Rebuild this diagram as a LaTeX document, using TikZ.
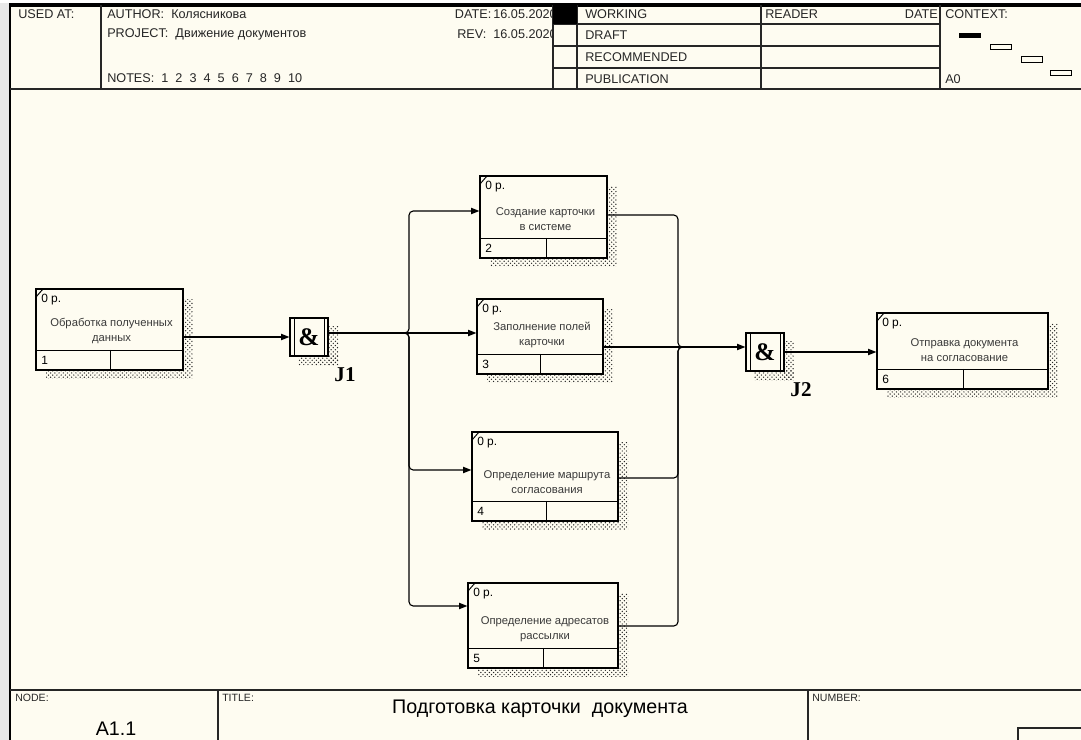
\documentclass[tikz,border=0pt]{standalone}
\usepackage{fontspec}
\setmainfont{Liberation Sans}
\newfontfamily\serifbf{Liberation Serif}
\usepackage{tikz}
\usetikzlibrary{arrows.meta,positioning,fit,calc,patterns}

\definecolor{paper}{HTML}{FEFCF1}
\definecolor{ink}{HTML}{3A3A3A}

% activity box: name, x1, y1, x2, y2, divider x, number, text
\newcommand{\actbox}[8]{%
  \fill[hatch] ({#2+10},{#3+11}) rectangle ({#4+10},{#5+9});
  \node[act, fit={(#2,#3)(#4,#5)}] (#1) {};
  \draw[thinline] (#2,{#5-20}) -- (#4,{#5-20}) (#6,{#5-20}) -- (#6,#5);
  \draw[thinline] (#2,{#3+8}) -- ({#2+7},#3);
  \node[lbl] at ({#2+5},{#3+11}) {0 р.};
  \node[lbl] at ({#2+5},{#5-10}) {#7};
  \node[acttext] at ({(#2+#4)/2+2},{#5-39}) {#8};
}
% junction: name, x1, y1, label
\newcommand{\junc}[4]{%
  \fill[hatch] ({#2+38},{#3+9}) rectangle ({#2+48},{#3+48});
  \fill[hatch] ({#2+8},{#3+38}) rectangle ({#2+48},{#3+48});
  \node[jbox, fit={(#2,#3)({#2+38},{#3+38})}] (#1) {};
  \draw[thinline] ({#2+4},#3) -- ({#2+4},{#3+38}) ({#2+34},#3) -- ({#2+34},{#3+38});
  \node[font=\serifbf\bfseries\fontsize{18}{18}\selectfont, inner sep=0pt] at (#1) {\&};
  \node[jlabel] at ({#2+55},{#3+57}) {#4};
}

\begin{document}
\begin{tikzpicture}[x=0.025cm, y=-0.025cm,
  act/.style={draw, fill=paper, inner sep=0pt, line width=0.8pt},
  jbox/.style={draw, fill=paper, inner sep=0pt, line width=0.8pt},
  thinline/.style={line width=0.7pt},
  hatch/.style={pattern=crosshatch dots, pattern color=black!85},
  lbl/.style={anchor=west, inner sep=0pt, font=\fontsize{8.5}{10}\selectfont},
  acttext/.style={align=center, inner sep=0pt, text=ink, font=\fontsize{8}{11}\selectfont},
  jlabel/.style={inner sep=0pt, font=\serifbf\bfseries\fontsize{15}{15}\selectfont},
  hdr/.style={anchor=west, inner sep=0pt, text=black!85, font=\fontsize{9}{10}\selectfont},
  small/.style={anchor=west, inner sep=0pt, text=black!85, font=\fontsize{7.5}{9}\selectfont},
  frame/.style={line width=0.8pt, black!85},
  arr/.style={-{Triangle[length=6pt,width=4.5pt]}, line width=0.8pt}]
\useasboundingbox (0,0) rectangle (1081,740);
\clip (0,0) rectangle (1081,740);

% sheet
\fill[paper] (0,0) rectangle (1081,740);
\fill[gray!18] (0,0) rectangle (9,740);
\fill[white] (0,0) rectangle (1081,3);
\draw[line width=2.2pt] (9,5) -- (1081,5);
\draw[line width=1.2pt] (10,5) -- (10,740);

% header
\draw[frame] (10,89) -- (1081,89);
\draw[frame] (101,5) -- (101,89) (553,5) -- (553,89) (577,5) -- (577,89)
  (761,5) -- (761,89) (940,5) -- (940,89);
\draw[frame] (553,24) -- (940,24) (553,46) -- (940,46) (553,68) -- (940,68);
\node[hdr] (usedat) at (18,14) {USED AT:};
\node[hdr] (author) at (107,14) {AUTHOR:~ Колясникова};
\node[hdr] (project) at (107,34) {PROJECT:~ Движение документов};
\node[hdr] (notes) at (107,78) {NOTES:~ 1~~2~~3~~4~~5~~6~~7~~8~~9~~10};
\begin{scope}
  \clip (400,5) rectangle (553,89);
  \node[hdr, anchor=east] (date) at (557,14) {DATE:\,16.05.2020};
  \node[hdr, anchor=east] (rev) at (557,34) {REV:~~16.05.2020};
\end{scope}
\fill (553,5) rectangle (577,24);
\node[hdr] (working) at (585,14) {WORKING};
\node[hdr] (draft) at (585,35) {DRAFT};
\node[hdr] (recommended) at (585,57) {RECOMMENDED};
\node[hdr] (publication) at (585,79) {PUBLICATION};
\node[hdr] (reader) at (765,14) {READER};
\node[hdr, anchor=east] (rdate) at (938,14) {DATE};
\node[hdr] (context) at (945,14) {CONTEXT:};
\node[hdr] (azero) at (945,79) {A0};
\fill (959,33) rectangle (981,38);
\draw[thinline] (990,44) rectangle (1011,49);
\draw[thinline] (1021,56) rectangle (1042,62);
\draw[thinline] (1050,70) rectangle (1071,75);

% footer
\draw[frame] (10,690) -- (1081,690);
\draw[frame] (218,690) -- (218,740) (808,690) -- (808,740);
\draw[frame] (1018,728) rectangle (1090,745);
\node[small] (nodelbl) at (15,698) {NODE:};
\node[small] (titlelbl) at (222,698) {TITLE:};
\node[small] (numberlbl) at (812,698) {NUMBER:};
\node[inner sep=0pt, font=\fontsize{14}{16}\selectfont] (title) at (540,709) {Подготовка карточки~ документа};
\node[inner sep=0pt, font=\fontsize{14}{16}\selectfont] (nodeno) at (116,729) {A1.1};

% activities
\actbox{b1}{36}{289}{183}{370}{110}{1}{Обработка полученных\\данных}
\actbox{b2}{480}{176}{607}{258}{546}{2}{Создание карточки\\в системе}
\actbox{b3}{477}{299}{603}{374}{540}{3}{Заполнение полей\\карточки}
\actbox{b4}{472}{432}{618}{521}{546}{4}{Определение маршрута\\согласования}
\actbox{b5}{468}{583}{618}{668}{543}{5}{Определение адресатов\\рассылки}
\actbox{b6}{877}{313}{1048}{389}{963}{6}{Отправка документа\\на согласование}

% junctions
\junc{j1}{290}{318}{J1}
\junc{j2}{746}{333}{J2}

% arrows
\coordinate (fork) at (409,333);
\coordinate (merge) at (678,347);
\draw[arr] (b1.east |- j1.west) -- (j1.west);
\draw[arr] (j1.east |- fork) -- (b3.west |- fork);
\draw[arr, rounded corners=3pt] ($(fork)+(-8,0)$) -| (fork |- 0,211) -- (b2.west |- 0,211);
\draw[arr, rounded corners=3pt] ($(fork)+(-8,0)$) -| (fork |- 0,470) -- (b4.west |- 0,470);
\draw[arr, rounded corners=3pt] ($(fork)+(-8,0)$) -| (fork |- 0,606) -- (b5.west |- 0,606);
\draw[thick, rounded corners=3pt] (b2.east |- 0,215) -| (merge) -- ($(merge)+(8,0)$);
\draw[thick, rounded corners=3pt] (b4.east |- 0,478) -| (merge) -- ($(merge)+(8,0)$);
\draw[thick, rounded corners=3pt] (b5.east |- 0,626) -| (merge) -- ($(merge)+(8,0)$);
\draw[arr] (b3.east |- merge) -- (j2.west |- merge);
\draw[arr] (j2.east) -- (b6.west |- j2.east);
\end{tikzpicture}
\end{document}
